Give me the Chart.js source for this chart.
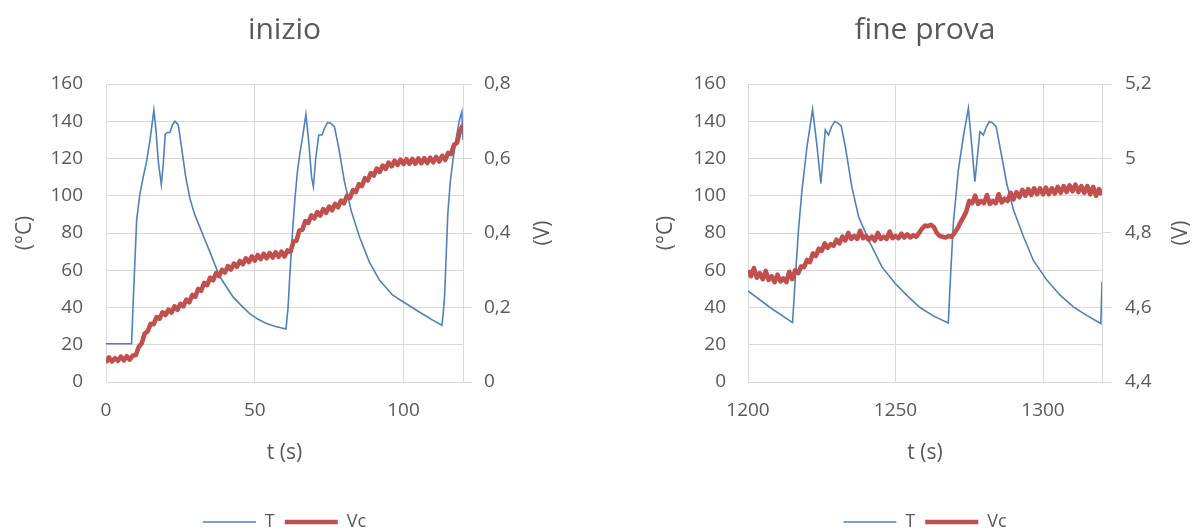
<!DOCTYPE html>
<html><head><meta charset="utf-8">
<script src="https://cdn.jsdelivr.net/npm/chart.js@4.4.1/dist/chart.umd.min.js"></script>
<style>
html,body{margin:0;padding:0;background:#fff;overflow:hidden;width:1195px;height:530px}
.c{position:absolute;top:0}
</style></head><body>
<div class="c" style="left:0"><canvas id="a" width="597" height="541"></canvas></div>
<div class="c" style="left:597px"><canvas id="b" width="598" height="541"></canvas></div>
<script>
// ---- chart "inizio" ----
const titleA = 'inizio';
const tTimeA = [0,8.6,9.2,10.3,11.4,12.5,13.6,14.8,16.1,16.8,17.6,18.6,19.3,19.9,20.6,21.5,22.3,23.2,24.3,25.4,26.8,28.2,29.8,31.5,33.2,34.9,36.6,38.3,40.5,42.7,45.5,48.3,51,53.9,57,60.5,61.2,61.7,62.8,63.6,64.4,65.2,66.1,67.2,68.2,69.1,69.7,70.5,71.5,72.6,73.4,74.5,75.5,76.8,78.2,80.1,82.4,85.2,88.5,91.9,96.4,100.9,105.3,109.8,112.9,113.3,113.8,114.9,115.7,116.6,117.7,118.8,119.6,120];
const tTempA = [20.5,20.5,45,87,101,110,118,130,146,135,118,106,118,133,134,134,138,140,138,126,110,98.6,90,83.3,76.5,70,63,56.5,51,45.7,41,36.7,33.8,31.4,29.8,28.5,40,54.7,83,100,113.8,123,131.7,143.7,128,110,104.8,120,132.6,132.6,136,139.4,139,137,126,108,92,78,64.5,54.7,46.6,42,37.6,33.2,30.5,36,45.7,90.5,107,119,131,140.7,145,130];
const vcStartA = 0; // Vc sampled every second from here
const vcA = [0.052,0.066,0.055,0.064,0.057,0.068,0.058,0.069,0.060,0.071,
0.072,0.094,0.104,0.130,0.136,0.156,0.155,0.174,0.170,0.187,
0.180,0.194,0.186,0.203,0.194,0.210,0.203,0.221,0.214,0.234,
0.229,0.250,0.245,0.266,0.260,0.280,0.273,0.292,0.284,0.301,
0.294,0.311,0.302,0.318,0.309,0.325,0.316,0.332,0.322,0.337,
0.326,0.341,0.330,0.344,0.332,0.346,0.334,0.348,0.336,0.350,
0.337,0.353,0.349,0.377,0.379,0.407,0.409,0.432,0.427,0.447,
0.439,0.456,0.447,0.464,0.454,0.471,0.461,0.478,0.469,0.487,
0.480,0.500,0.494,0.515,0.510,0.531,0.526,0.547,0.541,0.561,
0.554,0.573,0.564,0.581,0.572,0.589,0.579,0.594,0.583,0.597,
0.585,0.598,0.586,0.599,0.586,0.600,0.587,0.601,0.588,0.602,
0.590,0.604,0.592,0.607,0.596,0.615,0.612,0.637,0.642,0.675,
0.690];
const xRangeA = [0,120];
const vRangeA = [0,0.8];

// ---- chart "fine prova" ----
const titleB = 'fine prova';
const tTimeB = [1200,1207.5,1215.1,1216,1217.1,1218.3,1220,1221.9,1223.3,1224.7,1225.4,1226.2,1227.3,1228.3,1229.4,1230.5,1231.6,1233,1235.2,1237.5,1240.9,1245.4,1249.9,1254.4,1258.3,1262.8,1267.9,1268.7,1269.6,1271.3,1273,1274.7,1275.8,1276.9,1277.7,1278.6,1279.8,1280.8,1281.8,1283,1284.1,1285.4,1287.7,1290,1293.4,1296.7,1301.3,1305.8,1310.3,1314.8,1319.6,1320];
const tTempB = [48.9,40,31.9,54.7,81.5,103,126.3,146.4,128,106.6,120,135.3,132.6,137,139.8,139,137.5,126.3,104.8,88.7,76.2,61.8,52.9,45.7,40,35.5,31.7,58.2,85,113.8,131.7,147,128,107.5,120,134.4,132.6,137,139.8,139,137.1,126.3,106.6,92.3,78,65.4,54.7,46.6,40.3,35.8,31.4,54];
const vcStartB = 1200;
const vcB = [4.700,4.684,4.706,4.680,4.692,4.676,4.698,4.674,4.684,4.668,
4.688,4.670,4.678,4.668,4.696,4.676,4.700,4.692,4.710,4.708,
4.728,4.722,4.745,4.738,4.758,4.752,4.772,4.760,4.770,4.766,
4.782,4.772,4.790,4.780,4.800,4.784,4.792,4.784,4.806,4.786,
4.792,4.782,4.790,4.780,4.800,4.784,4.790,4.784,4.804,4.786,
4.792,4.786,4.798,4.788,4.796,4.788,4.794,4.790,4.800,4.812,
4.820,4.818,4.822,4.816,4.800,4.792,4.790,4.788,4.792,4.790,
4.800,4.812,4.828,4.842,4.858,4.886,4.880,4.900,4.878,4.886,
4.880,4.902,4.878,4.886,4.880,4.904,4.882,4.892,4.886,4.908,
4.890,4.910,4.896,4.916,4.900,4.918,4.902,4.920,4.904,4.920,
4.904,4.922,4.904,4.920,4.906,4.924,4.908,4.926,4.910,4.928,
4.912,4.930,4.910,4.926,4.908,4.926,4.904,4.924,4.900,4.918,
4.902];
const xRangeB = [1200,1320];
const vRangeB = [4.4,5.2];

const tempRange = [0,160];
const seriesNames = ['T','Vc'];
const axisTitles = { x: 't (s)', y: '(°C)', y1: '(V)' };

const FONT = '"Open Sans", sans-serif';
const TXT = '#595959';
const GRID = '#d9d9d9';
const BLUE = '#4f81bd';
const RED = '#c0504d';
const comma = v => String(Math.round(v*10)/10).replace('.', ',');

// right-axis title drawn reading bottom-to-top (like the left one)
const rightTitle = {
  id: 'rightTitle',
  afterDraw(chart, args, opts) {
    const ctx = chart.ctx, a = chart.chartArea;
    ctx.save();
    ctx.translate(opts.x, (a.top + a.bottom) / 2);
    ctx.rotate(-Math.PI / 2);
    ctx.textAlign = 'center';
    ctx.textBaseline = 'middle';
    ctx.font = '21px ' + FONT;
    ctx.fillStyle = TXT;
    ctx.fillText(opts.text, 0, 0);
    ctx.restore();
  }
};

function makeChart(id, o) {
  const tData = o.tTime.map((t,i)=>({x:t, y:o.tTemp[i]}));
  const vData = o.vc.map((v,i)=>({x:o.vcStart+i, y:v}));
  return new Chart(document.getElementById(id), {
    type: 'line',
    data: { datasets: [
      { label: seriesNames[0], data: tData, yAxisID: 'y', borderColor: BLUE, backgroundColor: BLUE,
        borderWidth: 1.6, pointRadius: 0, tension: 0, order: 2 },
      { label: seriesNames[1], data: vData, yAxisID: 'y1', borderColor: RED, backgroundColor: RED,
        borderWidth: 4.6, pointRadius: 0, tension: 0, order: 1, borderJoinStyle: 'round' }
    ]},
    plugins: [rightTitle],
    options: {
      responsive: false, animation: false, events: [],
      layout: { padding: 0 },
      plugins: {
        rightTitle: { text: axisTitles.y1, x: o.y1TitleX },
        title: { display: true, text: o.title, color: TXT, fullSize: false,
          font: { family: FONT, size: 30, weight: 'normal', lineHeight: 1.2 },
          padding: { top: 12, bottom: 36 } },
        legend: { position: 'bottom', fullSize: false,
          labels: { usePointStyle: true, pointStyle: 'line', pointStyleWidth: 53, padding: 10,
            color: TXT, font: { family: FONT, size: 18 },
            sort: (a,b) => a.datasetIndex - b.datasetIndex } },
        tooltip: { enabled: false }
      },
      scales: {
        x: { type: 'linear', min: o.xRange[0], max: o.xRange[1],
          afterFit: s => { s.height = 121; },
          ticks: { stepSize: 50, includeBounds: false, padding: 17, color: TXT,
            font: { family: FONT, size: 19 }, callback: v => String(v), maxRotation: 0 },
          grid: { color: GRID, drawTicks: false, lineWidth: 1 },
          border: { color: GRID },
          title: { display: true, text: axisTitles.x, color: TXT,
            font: { family: FONT, size: 21, lineHeight: 1.2 }, padding: { top: 0, bottom: 37 } } },
        y: { position: 'left', min: tempRange[0], max: tempRange[1],
          afterFit: s => { s.width = o.yW; },
          ticks: { stepSize: 20, padding: o.yTickPad, color: TXT, font: { family: FONT, size: 19 },
            callback: v => String(v) },
          grid: { color: GRID, drawTicks: false, lineWidth: 1 },
          border: { color: GRID },
          title: { display: true, text: axisTitles.y, color: TXT,
            font: { family: FONT, size: 21, lineHeight: 1.2 }, padding: { top: o.yTitlePad, bottom: 0 } } },
        y1: { position: 'right', min: o.vRange[0], max: o.vRange[1],
          afterFit: s => { s.width = o.y1W; },
          ticks: { stepSize: 0.2, padding: o.y1TickPad, color: TXT, font: { family: FONT, size: 19 },
            callback: v => comma(v) },
          grid: { drawOnChartArea: false, color: GRID, tickLength: 9, lineWidth: 1 },
          border: { color: GRID },
          title: { display: false } }
      }
    }
  });
}

makeChart('a', { title: titleA, tTime: tTimeA, tTemp: tTempA, vcStart: vcStartA, vc: vcA,
  xRange: xRangeA, vRange: vRangeA, yW: 106, y1W: 134, yTitlePad: 12, y1TitleX: 543, yTickPad: 23, y1TickPad: 12 });
makeChart('b', { title: titleB, tTime: tTimeB, tTemp: tTempB, vcStart: vcStartB, vc: vcB,
  xRange: xRangeB, vRange: vRangeB, yW: 151, y1W: 93, yTitlePad: 56, y1TitleX: 584, yTickPad: 22, y1TickPad: 14 });
</script>
</body></html>
